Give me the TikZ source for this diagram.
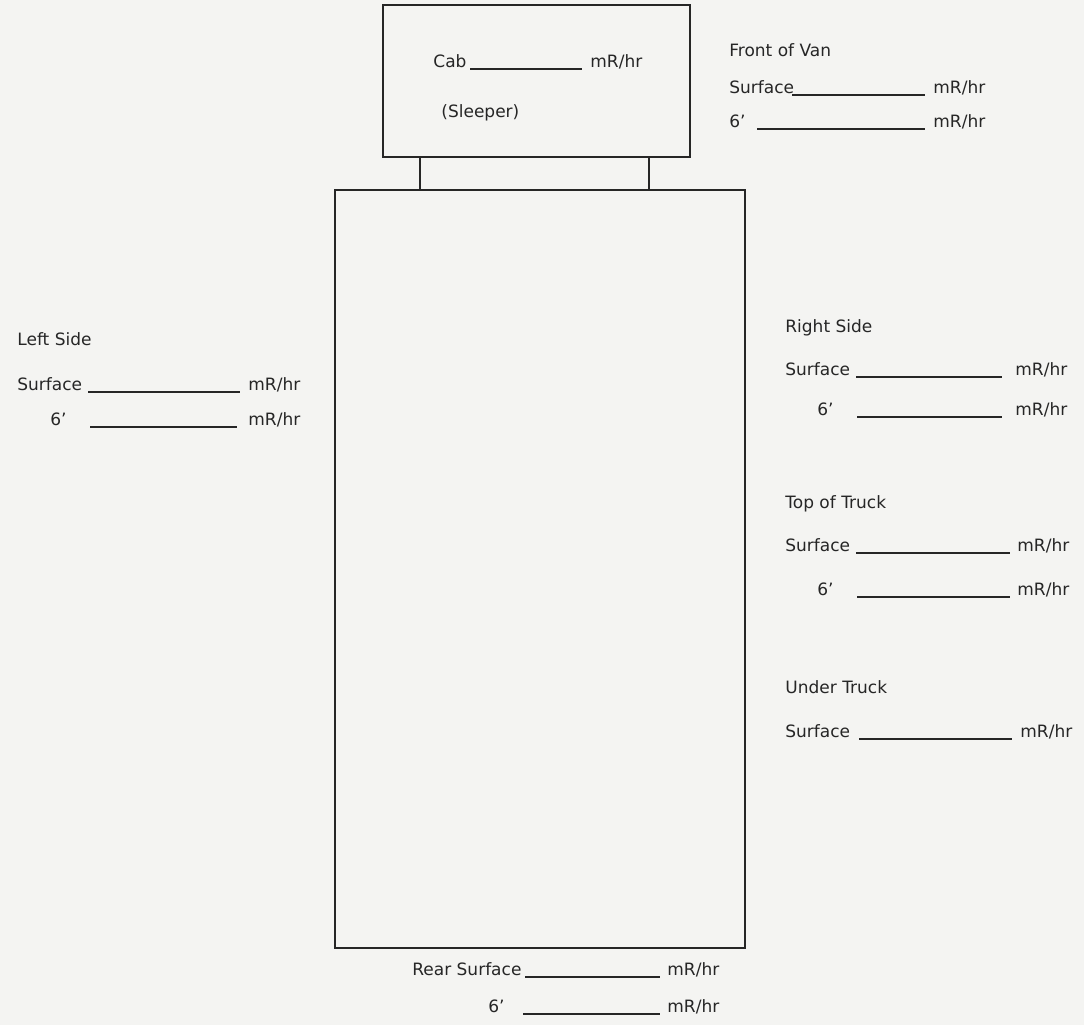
\documentclass[tikz,border=0pt]{standalone}
\usepackage{fontspec}
\setmainfont{DejaVu Sans}
\usepackage{xcolor}
\usepackage{tikz}
\usetikzlibrary{positioning, fit}
\definecolor{encre}{HTML}{262626}
\definecolor{papier}{HTML}{F4F4F2}

\tikzset{
  caisse/.style={draw=encre, line width=1.2pt, inner sep=0pt},
  lien/.style={draw=encre, line width=1.1pt},
  trait/.style={draw=encre, line width=0.7pt},
  texte/.style={font=\fontsize{8.5}{10}\selectfont, text=encre, anchor=base west, inner sep=0pt}
}

\begin{document}
\begin{tikzpicture}[x=0.5pt, y=-0.5pt]
    % Fond
    \fill[papier] (0,0) rectangle (1084,1025);
    \useasboundingbox (0,0) rectangle (1084,1025);
    % Cabine et caisse
    \coordinate (cab-no) at (383,5);
    \coordinate (cab-se) at (690,157);
    \coordinate (van-no) at (335,190);
    \coordinate (van-se) at (745,948);
    \node[caisse, fit=(cab-no)(cab-se)] (cab) {};
    \node[caisse, fit=(van-no)(van-se)] (van) {};
    \path (cab.south west) ++(38,0) coordinate (lien-g);
    \path (cab.south east) ++(-42,0) coordinate (lien-d);
    \draw[lien] (lien-g) -- (lien-g |- van.north);
    \draw[lien] (lien-d) -- (lien-d |- van.north);
    % Titres
    \node[texte] (t-front) at (729,56) {Front of Van};
    \node[texte] (t-left) at (17,345) {Left Side};
    \node[texte] (t-right) at (785,332) {Right Side};
    \node[texte] (t-top) at (785,508) {Top of Truck};
    \node[texte] (t-under) at (785,693) {Under Truck};
    \node[texte] (t-sleep) at (441,117) {(Sleeper)};
    % Lignes a remplir
    \foreach \x/\y/\lab/\a/\b/\u [count=\i] in {
      433/67/Cab/470/582/590,
      729/93/Surface/792/925/933, 729/127/6'/757/925/933,
      17/390/Surface/88/240/248, 50/425/6'/90/237/248,
      785/375/Surface/856/1002/1015, 817/415/6'/857/1002/1015,
      785/551/Surface/856/1010/1017, 817/595/6'/857/1010/1017,
      785/737/Surface/859/1012/1020,
      412/975/Rear Surface/525/660/667, 488/1012/6'/523/660/667} {
      \node[texte] (lab-\i) at (\x,\y) {\lab};
      \node[texte] (unit-\i) at (\u,\y) {mR/hr};
      \draw[trait] ({\a},{\y+2}) -- ({\b},{\y+2});
    }
  \end{tikzpicture}
\end{document}
